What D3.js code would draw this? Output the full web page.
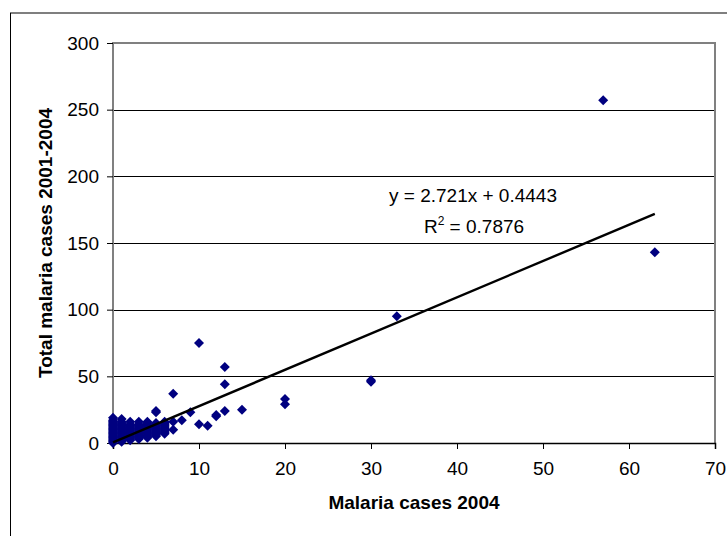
<!DOCTYPE html>
<html>
<head>
<meta charset="utf-8">
<script src="https://cdn.jsdelivr.net/npm/d3@7"></script>
<style>
  body { margin: 0; background: #fff; }
  svg { display: block; font-family: "Liberation Sans", Arial, sans-serif; }
  .tick-label { font-size: 19px; fill: #000; }
  .axis-title { font-size: 19px; font-weight: bold; fill: #000; }
  .eq { font-size: 19px; fill: #000; }
</style>
</head>
<body>
<div id="chart"></div>
<script>
// malaria cases 2004 (x) vs total cases 2001-2004 (y)
const casesX = [
  0,0,0,0,0,0,0,0,0,0,0,0,0,0,0,0,0,0,0,
  1,1,1,1,1,1,1,1,1,1,1,1,1,1,1,1,1,
  2,2,2,2,2,2,2,2,2,2,2,2,2,2,
  3,3,3,3,3,3,3,3,3,3,3,3,3,
  4,4,4,4,4,4,4,4,4,4,4,4,4,
  5,5,5,5,5,5,5,5,5,5,5,5,5,
  6,6,6,6,6,6,6,6,6,6,
  7,7,7, 8, 9, 10,10, 11, 12,12, 13,13,13, 15, 20,20, 30,30, 33, 57, 63
];
const casesTotal = [
  0,1,2,3,4,5,6,7,8,9,10,11,12,13,14,15,16,17,19,
  1,2,3,4,5,6,7,8,9,10,11,12,13,14,15,16,18,
  2,3,4,5,6,7,8,9,10,11,12,13,14,16,
  3,4,5,6,7,8,9,10,11,12,13,14,16,
  4,5,6,7,8,9,10,11,12,13,14,15,16,
  5,6,7,8,9,10,11,12,13,14,15,23,24,
  7,8,9,10,11,12,13,14,15,16,
  10,16,37, 17, 23, 14,75, 13, 20,21, 24,44,57, 25, 29,33, 46,47, 95, 257, 143
];
const xTicks = [0, 10, 20, 30, 40, 50, 60, 70];
const yTicks = [0, 50, 100, 150, 200, 250, 300];
const slope = 2.721, intercept = 0.4443, rSquared = 0.7876;

const W = 727, H = 536;
const plot = {left: 113, top: 43, right: 715, bottom: 443};

const svg = d3.select("#chart").append("svg").attr("width", W).attr("height", H);

// outer chart frame
svg.append("rect").attr("x", 10.5).attr("y", 13).attr("width", 730).attr("height", 540)
  .attr("fill", "#fff").attr("stroke", "#000").attr("stroke-width", 1);

const x = d3.scaleLinear().domain([0, 70]).range([plot.left, plot.right]);
const y = d3.scaleLinear().domain([0, 300]).range([plot.bottom, plot.top]);

// gridlines
svg.append("g").selectAll("line").data(yTicks.filter(d => d > 0 && d < 300)).join("line")
  .attr("x1", plot.left).attr("x2", plot.right)
  .attr("y1", d => Math.round(y(d)) + 0.5).attr("y2", d => Math.round(y(d)) + 0.5)
  .attr("stroke", "#000").attr("stroke-width", 1);

// plot frame (top, right, left in gray)
svg.append("path")
  .attr("d", `M${plot.left},${plot.bottom}V${y(300)}H${plot.right}V${plot.bottom}`)
  .attr("fill", "none").attr("stroke", "#808080").attr("stroke-width", 2);

// y axis
const yAxis = svg.append("g").attr("transform", `translate(${plot.left},0)`)
  .call(d3.axisLeft(y).tickValues(yTicks).tickSize(6).tickPadding(8));
yAxis.select(".domain").remove();
yAxis.selectAll(".tick line").attr("stroke", "#000");
yAxis.selectAll(".tick text").attr("class", "tick-label").attr("font-size", null).attr("font-family", null);

// x axis
const xAxis = svg.append("g").attr("transform", `translate(0,${plot.bottom})`)
  .call(d3.axisBottom(x).tickValues(xTicks).tickSize(6).tickPadding(13));
xAxis.select(".domain").attr("stroke", "#000").attr("stroke-width", 1.5);
xAxis.selectAll(".tick line").attr("stroke", "#000");
xAxis.selectAll(".tick text").attr("class", "tick-label").attr("font-size", null).attr("font-family", null);

// points
const points = casesX.map((v, i) => ({x: v, y: casesTotal[i]}));
const diamond = d3.symbol(d3.symbolSquare, 50);
svg.append("g").selectAll("path").data(points).join("path")
  .attr("d", diamond)
  .attr("transform", d => `translate(${x(d.x)},${y(d.y)}) rotate(45)`)
  .attr("fill", "#000080");

// trendline
const xMax = d3.max(casesX);
svg.append("line")
  .attr("x1", x(0)).attr("y1", y(intercept))
  .attr("x2", x(xMax)).attr("y2", y(slope * xMax + intercept))
  .attr("stroke", "#000").attr("stroke-width", 2.4);

// equation
svg.append("text").attr("class", "eq").attr("x", 473).attr("y", 202).attr("text-anchor", "middle")
  .text(`y = ${slope}x + ${intercept}`);
const r2 = svg.append("text").attr("class", "eq").attr("x", 474).attr("y", 233).attr("text-anchor", "middle");
r2.append("tspan").text("R");
r2.append("tspan").attr("dy", -8).attr("font-size", 12).text("2");
r2.append("tspan").attr("dy", 8).text(` = ${rSquared}`);

// axis titles
svg.append("text").attr("class", "axis-title").attr("x", 414).attr("y", 509)
  .attr("text-anchor", "middle").text("Malaria cases 2004");
svg.append("text").attr("class", "axis-title")
  .attr("transform", "translate(52,243) rotate(-90)")
  .attr("text-anchor", "middle").text("Total malaria cases 2001-2004");
</script>
</body>
</html>
